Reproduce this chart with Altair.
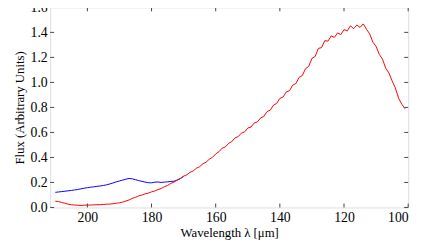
import altair as alt
import pandas as pd

red_wl = [210, 209, 208, 207, 206, 205, 204, 203, 202, 201,
          200, 199, 198, 197, 196, 195, 194, 193, 192, 191,
          190, 189, 188, 187, 186, 185, 184, 183, 182, 181,
          180, 179, 178, 177, 176, 175, 174, 173, 172, 171,
          170, 169, 168, 167, 166, 165, 164, 163, 162, 161,
          160, 159, 158, 157, 156, 155, 154, 153, 152, 151,
          150, 149, 148, 147, 146, 145, 144, 143, 142, 141,
          140, 139, 138, 137, 136, 135, 134, 133, 132, 131,
          130, 129, 128, 127, 126, 125, 124, 123, 122, 121,
          120, 119, 118, 117, 116, 115, 114, 113, 112, 111,
          110, 109, 108, 107, 106, 105, 104, 103, 102, 101]
red_flux = [0.050, 0.047, 0.040, 0.034, 0.026, 0.022, 0.019, 0.018, 0.016, 0.018,
            0.019, 0.019, 0.021, 0.022, 0.022, 0.024, 0.026, 0.027, 0.030, 0.034,
            0.037, 0.043, 0.052, 0.060, 0.073, 0.081, 0.093, 0.099, 0.109, 0.115,
            0.125, 0.132, 0.143, 0.152, 0.166, 0.176, 0.192, 0.203, 0.221, 0.231,
            0.250, 0.261, 0.281, 0.292, 0.314, 0.326, 0.349, 0.362, 0.386, 0.401,
            0.428, 0.446, 0.474, 0.484, 0.513, 0.526, 0.556, 0.566, 0.594, 0.604,
            0.635, 0.643, 0.675, 0.684, 0.716, 0.728, 0.767, 0.778, 0.818, 0.832,
            0.872, 0.883, 0.924, 0.933, 0.978, 0.991, 1.040, 1.055, 1.110, 1.128,
            1.192, 1.208, 1.272, 1.278, 1.334, 1.330, 1.372, 1.360, 1.396, 1.382,
            1.422, 1.412, 1.452, 1.430, 1.458, 1.440, 1.468, 1.425, 1.388, 1.322,
            1.288, 1.224, 1.186, 1.113, 1.076, 1.012, 0.956, 0.874, 0.826, 0.790]

blue_wl = [210, 209, 208, 207, 206, 205, 204, 203, 202, 201,
           200, 199, 198, 197, 196, 195, 194, 193, 192, 191,
           190, 189, 188, 187, 186, 185, 184, 183, 182, 181,
           180, 179, 178, 177, 176, 175, 174, 173, 172, 171, 170]
blue_flux = [0.121, 0.124, 0.127, 0.130, 0.133, 0.136, 0.140, 0.144, 0.149, 0.154,
             0.158, 0.162, 0.165, 0.169, 0.172, 0.176, 0.181, 0.188, 0.196, 0.205,
             0.212, 0.219, 0.226, 0.232, 0.229, 0.222, 0.215, 0.209, 0.203, 0.198,
             0.197, 0.202, 0.204, 0.200, 0.203, 0.205, 0.208, 0.210, 0.218, 0.232, 0.249]

x_ticks = [200, 180, 160, 140, 120, 100]
y_ticks = [0.0, 0.2, 0.4, 0.6, 0.8, 1.0, 1.2, 1.4, 1.6]

W, H = 365, 204
TL = 4
FONT = "'Liberation Serif', 'Times New Roman', Times, serif"

red_df = pd.DataFrame({"wl": red_wl, "flux": red_flux})
blue_df = pd.DataFrame({"wl": blue_wl, "flux": blue_flux})
xt_df = pd.DataFrame({"wl": x_ticks})
yt_df = pd.DataFrame({"flux": y_ticks})

xscale = alt.Scale(domain=[100, 211.6], reverse=True, nice=False, zero=False)
yscale = alt.Scale(domain=[0, 1.6], nice=False, zero=False)

xaxis = alt.Axis(values=x_ticks, tickSize=0, grid=False, domain=False,
                 labelFont=FONT, labelFontSize=14, labelColor="black",
                 labelPadding=3, title="Wavelength λ [μm]",
                 titleFont=FONT, titleFontSize=13, titleFontWeight="normal",
                 titleColor="black", titlePadding=3, format="d")
yaxis = alt.Axis(values=y_ticks, tickSize=0, grid=False, domain=False,
                 labelFont=FONT, labelFontSize=14, labelColor="black",
                 labelPadding=3, title="Flux (Arbitrary Units)",
                 titleFont=FONT, titleFontSize=13, titleFontWeight="normal",
                 titleColor="black", titlePadding=4, format=".1f")

X = alt.X("wl:Q", scale=xscale, axis=xaxis)
Y = alt.Y("flux:Q", scale=yscale, axis=yaxis)

blue = alt.Chart(blue_df).mark_line(color="#0000ff", strokeWidth=1).encode(x=X, y=Y)
red = alt.Chart(red_df).mark_line(color="#ff0000", strokeWidth=1).encode(x=X, y=Y)

tick_color = "#444444"
bottom_ticks = alt.Chart(xt_df).mark_rule(color=tick_color, strokeWidth=1).encode(
    x=X, y=alt.value(H), y2=alt.value(H - TL))
top_ticks = alt.Chart(xt_df).mark_rule(color=tick_color, strokeWidth=1).encode(
    x=X, y=alt.value(0), y2=alt.value(TL))
left_ticks = alt.Chart(yt_df).mark_rule(color=tick_color, strokeWidth=1).encode(
    y=Y, x=alt.value(0), x2=alt.value(TL))
right_ticks = alt.Chart(yt_df).mark_rule(color=tick_color, strokeWidth=1).encode(
    y=Y, x=alt.value(W), x2=alt.value(W - TL))

chart = alt.layer(blue, red, bottom_ticks, top_ticks, left_ticks, right_ticks).properties(
    width=W, height=H,
    autosize=alt.AutoSizeParams(type="none"),
    padding={"left": 43, "top": -3, "right": 9, "bottom": 41},
).configure_view(stroke="#333333", strokeWidth=1).configure(background="white")

chart.save("out.html", embed_options={"renderer": "svg", "actions": False})
